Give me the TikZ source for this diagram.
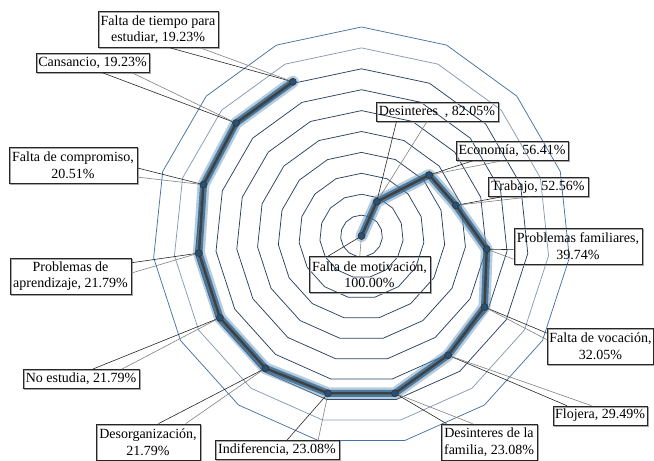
\documentclass[tikz,border=0pt]{standalone}
\usepackage{fontspec}
\setmainfont{Liberation Serif}
\usetikzlibrary{calc,shadows}
\definecolor{ringA}{RGB}{70,115,165}
\definecolor{ringB}{RGB}{135,155,178}
\definecolor{ringC}{RGB}{42,66,96}
\definecolor{glowA}{RGB}{95,145,185}
\definecolor{glowB}{RGB}{50,100,140}
\definecolor{markc}{RGB}{40,80,115}
\begin{document}
\begin{tikzpicture}[x=1pt,y=-1pt,
  lab/.style={draw=black!85, line width=0.7pt, inner xsep=2pt, inner ysep=1pt,
    align=center, font=\fontsize{14}{16.5}\selectfont, minimum height=19pt,
    drop shadow={shadow xshift=1.2pt, shadow yshift=-1.2pt, fill=none, draw=black!35, opacity=1}},
  two/.style={minimum height=36pt},
  lead/.style={draw=black!85, line width=0.6pt},
  leadb/.style={draw=black!50, line width=0.6pt},
  ring/.style={line width=0.75pt, line join=round},
  dot/.style={circle, fill=markc, draw=black!80, line width=0.6pt, inner sep=0pt, minimum size=7pt}
  ]
\useasboundingbox (0,0) rectangle (654,461);
\coordinate (C) at (361.5,236);
% rings
\foreach \k/\c in {1/ringC,2/ringC,3/ringC,4/ringC,5/ringC,6/ringC,7/ringC,8/ringC,9/ringB,10/ringA}
  \draw[ring,\c] plot[samples=16, domain=0:15, variable=\t]
    ({361.5+20.9*\k*cos(90-24*\t)}, {236-20.9*\k*sin(90-24*\t)}) -- cycle;
% data points
\foreach \i/\v in {0/100,1/82.05,2/56.41,3/52.56,4/39.74,5/32.05,6/29.49,7/23.08,8/23.08,9/21.79,10/21.79,11/21.79,12/20.51,13/19.23,14/19.23}
  \coordinate (p\i) at ({361.5+(100-\v)*2.09*cos(90-24*\i)}, {236-(100-\v)*2.09*sin(90-24*\i)});
% data line with glow
\draw[glowA, opacity=0.45, line width=12pt, line join=round, line cap=round]
  (p0) -- (p1) -- (p2) -- (p3) -- (p4) -- (p5) -- (p6) -- (p7) -- (p8) -- (p9) -- (p10) -- (p11) -- (p12) -- (p13) -- (p14);
\draw[glowB, opacity=0.8, line width=7pt, line join=round, line cap=round]
  (p0) -- (p1) -- (p2) -- (p3) -- (p4) -- (p5) -- (p6) -- (p7) -- (p8) -- (p9) -- (p10) -- (p11) -- (p12) -- (p13) -- (p14);
\draw[black!75, line width=2.4pt, line join=round, line cap=round]
  (p0) -- (p1) -- (p2) -- (p3) -- (p4) -- (p5) -- (p6) -- (p7) -- (p8) -- (p9) -- (p10) -- (p11) -- (p12) -- (p13) -- (p14);
% labels
\node[lab, two, minimum width=121pt] (l0) at (369.5,274.5) {Falta de motivación,\\100.00\%};
\node[lab, minimum width=122pt] (l1) at (437,111.5) {Desinteres\ \ , 82.05\%};
\node[lab, minimum width=112pt] (l2) at (512,151) {Economía, 56.41\%};
\node[lab, minimum width=100pt] (l3) at (538,187) {Trabajo, 52.56\%};
\node[lab, two, minimum width=128pt] (l4) at (578,246) {Problemas familiares,\\39.74\%};
\node[lab, two, minimum width=105pt] (l5) at (600.5,346) {Falta de vocación,\\32.05\%};
\node[lab, minimum width=94pt] (l6) at (600,415.5) {Flojera, 29.49\%};
\node[lab, two, minimum width=96pt] (l7) at (489,442) {Desinteres de la\\familia, 23.08\%};
\node[lab, minimum width=124pt] (l8) at (277,450) {Indiferencia, 23.08\%};
\node[lab, two, minimum width=104pt] (l9) at (148,442) {Desorganización,\\21.79\%};
\node[lab, minimum width=116pt] (l10) at (81,379) {No estudia, 21.79\%};
\node[lab, two, minimum width=121pt] (l11) at (70.5,276) {Problemas de\\aprendizaje, 21.79\%};
\node[lab, two, minimum width=128pt] (l12) at (73,165) {Falta de compromiso,\\20.51\%};
\node[lab, minimum width=113pt] (l13) at (92.5,63) {Cansancio, 19.23\%};
\node[lab, two, minimum width=120pt] (l14) at (158,29.5) {Falta de tiempo para\\estudiar, 19.23\%};
% leaders
\draw[lead] ($(l0.north west)!0.16!(l0.north east)$) -- (p0);
\draw[leadb] ($(l0.north west)!0.42!(l0.north east)$) -- (p0);
\draw[lead] ($(l1.south west)!0.17!(l1.south east)$) -- (p1);
\draw[leadb] ($(l1.south west)!0.42!(l1.south east)$) -- (p1);
\draw[lead] ($(l2.south west)!0.15!(l2.south east)$) -- (p2);
\draw[leadb] ($(l2.south west)!0.41!(l2.south east)$) -- (p2);
\draw[lead] ($(l3.south west)!0.14!(l3.south east)$) -- (p3);
\draw[leadb] ($(l3.south west)!0.42!(l3.south east)$) -- (p3);
\draw[lead] ($(l4.north west)!0.6!(l4.south west)$) -- (p4);
\draw[leadb] ($(l4.north west)!0.86!(l4.south west)$) -- (p4);
\draw[lead] ($(l5.north west)!0.15!(l5.south west)$) -- (p5);
\draw[leadb] ($(l5.north west)!0.33!(l5.south west)$) -- (p5);
\draw[lead] ($(l6.north west)!0.15!(l6.north east)$) -- (p6);
\draw[leadb] ($(l6.north west)!0.41!(l6.north east)$) -- (p6);
\draw[lead] ($(l7.north west)!0.06!(l7.north east)$) -- (p7);
\draw[leadb] ($(l7.north west)!0.33!(l7.north east)$) -- (p7);
\draw[lead] ($(l8.north west)!0.58!(l8.north east)$) -- (p8);
\draw[leadb] ($(l8.north west)!0.83!(l8.north east)$) -- (p8);
\draw[lead] ($(l9.north west)!0.6!(l9.north east)$) -- (p9);
\draw[leadb] ($(l9.north west)!0.86!(l9.north east)$) -- (p9);
\draw[lead] ($(l10.north west)!0.6!(l10.north east)$) -- (p10);
\draw[leadb] ($(l10.north west)!0.85!(l10.north east)$) -- (p10);
\draw[lead] ($(l11.north east)!0.14!(l11.south east)$) -- (p11);
\draw[leadb] ($(l11.north east)!0.42!(l11.south east)$) -- (p11);
\draw[lead] ($(l12.north east)!0.58!(l12.south east)$) -- (p12);
\draw[leadb] ($(l12.north east)!0.83!(l12.south east)$) -- (p12);
\draw[lead] ($(l13.south west)!0.59!(l13.south east)$) -- (p13);
\draw[leadb] ($(l13.south west)!0.85!(l13.south east)$) -- (p13);
\draw[lead] ($(l14.south west)!0.6!(l14.south east)$) -- (p14);
\draw[leadb] ($(l14.south west)!0.85!(l14.south east)$) -- (p14);
% markers
\foreach \i in {0,...,14} \node[dot] (m\i) at (p\i) {};
\end{tikzpicture}
\end{document}
